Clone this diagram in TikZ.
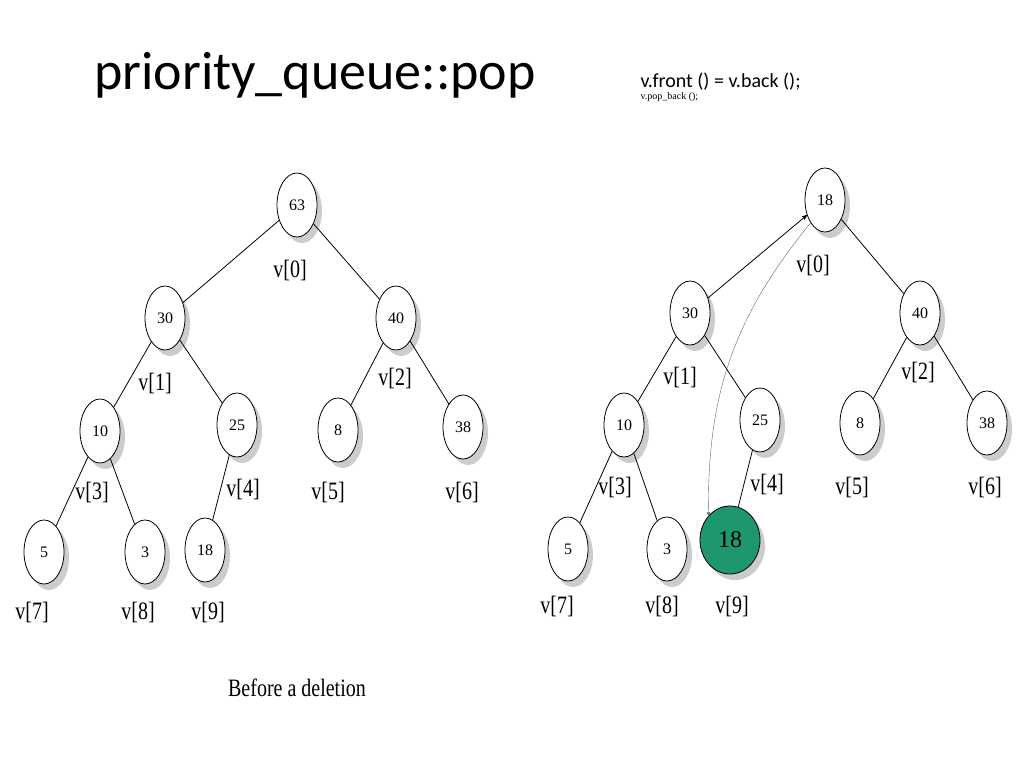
\documentclass[tikz,border=0pt]{standalone}
\usepackage{fontspec}
\setmainfont{Liberation Serif}
\newfontfamily\slidefont{Carlito}
\usetikzlibrary{arrows,shapes.geometric}
\definecolor{heapgreen}{RGB}{30,150,110}
\begin{document}
\begin{tikzpicture}
[
	              x = 1pt, y = -1pt,
	           >= stealth',
	  heap/.style = { draw=black, thick, ellipse, fill=white, minimum width=40pt, minimum height=64pt, inner sep=0pt,
	                  font=\fontsize{16}{16}\selectfont,
	                  preaction={fill=black!20, transform canvas={shift={(5pt,-6pt)}}} },
	  moved/.style = { heap, fill=heapgreen, minimum width=60pt, minimum height=68pt, font=\fontsize{24}{24}\selectfont, preaction={} },
	  idx/.style = { font=\fontsize{25}{25}\selectfont\addfontfeatures{FakeStretch=0.8} },
	  tree/.style = { thick }
]
	\useasboundingbox (0,0) rectangle (1024,768);
	% header
	\node (title) at (315,75) {\slidefont\fontsize{54}{54}\selectfont priority\_queue::pop};
	\node (code) at (637,87) [anchor=west, align=left] {\slidefont\fontsize{20}{29}\selectfont v.front () = v.back ();\\ v.pop\_back ();};

	% heap before the deletion
	\node (a0) at (297,205) [heap] {63};
	\node (a1) at (165,318) [heap] {30};
	\node (a2) at (396,318) [heap] {40};
	\node (a3) at (100,431) [heap] {10};
	\node (a4) at (237,425) [heap] {25};
	\node (a5) at (338,430) [heap] {8};
	\node (a6) at (463,427) [heap] {38};
	\node (a7) at (44,552)  [heap] {5};
	\node (a8) at (145,552) [heap] {3};
	\node (a9) at (205,550) [heap] {18};
	\draw [tree] (a0) -- (a1) (a0) -- (a2) (a1) -- (a3) (a1) -- (a4)
	             (a2) -- (a5) (a2) -- (a6) (a3) -- (a7) (a3) -- (a8) (a4) -- (a9);
	\node (la0) at (290,270) [idx] {v[0]};
	\node (la1) at (155,383) [idx] {v[1]};
	\node (la2) at (395,378) [idx] {v[2]};
	\node (la3) at (92,492)  [idx] {v[3]};
	\node (la4) at (243,489) [idx] {v[4]};
	\node (la5) at (328,492) [idx] {v[5]};
	\node (la6) at (462,492) [idx] {v[6]};
	\node (la7) at (32,612)  [idx] {v[7]};
	\node (la8) at (138,612) [idx] {v[8]};
	\node (la9) at (208,612) [idx] {v[9]};
	\node (caption) at (297,688) [font=\fontsize{25}{25}\selectfont\addfontfeatures{FakeStretch=0.8}] {Before a deletion};

	% heap after moving the back element
	\node (b0) at (825,200) [heap] {18};
	\node (b1) at (690,313) [heap] {30};
	\node (b2) at (920,313) [heap] {40};
	\node (b3) at (624,425) [heap] {10};
	\node (b4) at (760,420) [heap] {25};
	\node (b5) at (860,423) [heap] {8};
	\node (b6) at (987,423) [heap] {38};
	\node (b7) at (568,549) [heap] {5};
	\node (b8) at (667,549) [heap] {3};
	\node (b9) at (730,540) [moved] {18};
	\draw [tree] (b0) -- (b2) (b1) -- (b3) (b1) -- (b4)
	             (b2) -- (b5) (b2) -- (b6) (b3) -- (b7) (b3) -- (b8) (b4) -- (b9);
	\draw [tree, ->] (b1) -- (b0);
	\draw [->, black!60] (b0.south west) to [bend right=20] (b9.north west);
	\node (lb0) at (813,265) [idx] {v[0]};
	\node (lb1) at (680,377) [idx] {v[1]};
	\node (lb2) at (918,372) [idx] {v[2]};
	\node (lb3) at (615,487) [idx] {v[3]};
	\node (lb4) at (767,484) [idx] {v[4]};
	\node (lb5) at (852,487) [idx] {v[5]};
	\node (lb6) at (985,487) [idx] {v[6]};
	\node (lb7) at (557,606) [idx] {v[7]};
	\node (lb8) at (662,606) [idx] {v[8]};
	\node (lb9) at (732,606) [idx] {v[9]};
\end{tikzpicture}
\end{document}
